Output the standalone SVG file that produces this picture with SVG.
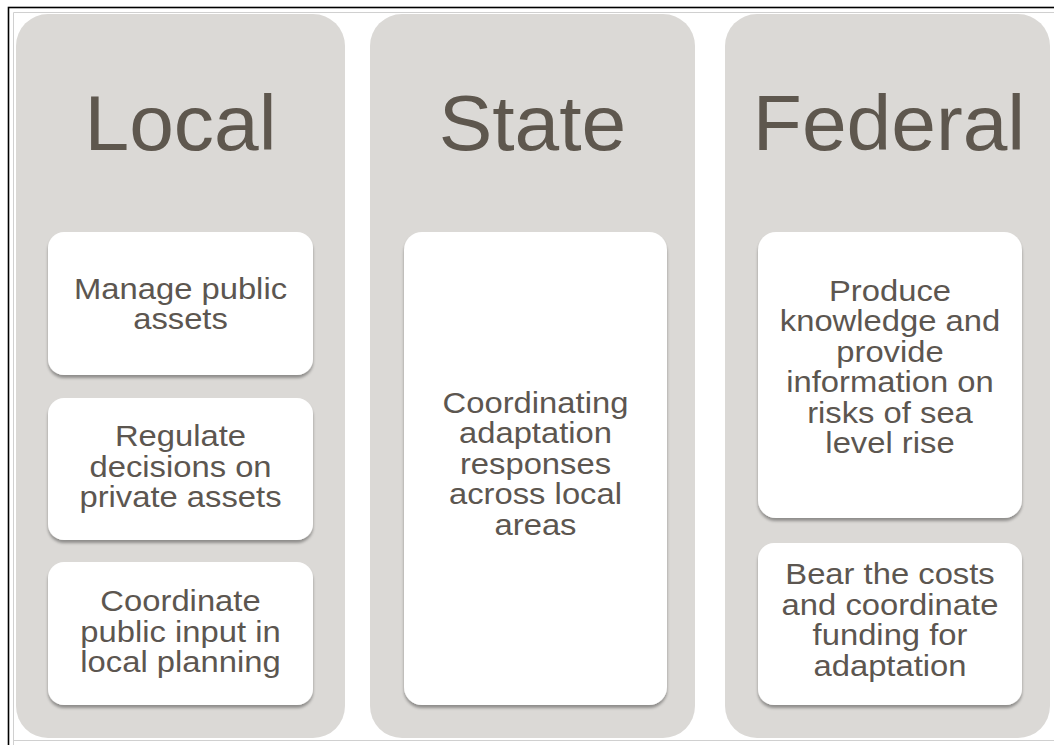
<svg xmlns="http://www.w3.org/2000/svg" width="1054" height="745" viewBox="0 0 1054 745">
  <defs>
    <filter id="boxShadow" x="-10%" y="-10%" width="120%" height="125%">
      <feGaussianBlur in="SourceAlpha" stdDeviation="1.5"/>
      <feOffset dx="0" dy="3" result="off"/>
      <feComponentTransfer><feFuncA type="linear" slope="0.35"/></feComponentTransfer>
      <feMerge><feMergeNode/><feMergeNode in="SourceGraphic"/></feMerge>
    </filter>
  </defs>
  <style>
    .col { fill: #dbd9d6; }
    .box { fill: #ffffff; filter: url(#boxShadow); }
    .title { font-family: "Liberation Sans", Arial, sans-serif; font-size: 78px; fill: #5e574e; text-anchor: middle; }
    .body { font-family: "Liberation Sans", Arial, sans-serif; font-size: 29px; fill: #5c5650; text-anchor: middle; }
  </style>

  <rect width="1054" height="745" fill="#ffffff"/>
  <!-- frame lines -->
  <rect x="8.5" y="7.5" width="1060" height="760" fill="none" stroke="#000000" stroke-width="1.6"/>
  <path d="M13.5 760 V12.5 H1054" fill="none" stroke="#d0d0d0" stroke-width="1"/>
  <line x1="13" y1="740.5" x2="1054" y2="740.5" stroke="#d0d0d0" stroke-width="1"/>

  <g id="local">
    <rect class="col" x="16" y="14" width="329" height="724" rx="32"/>
    <text class="title" transform="translate(180.5,150) scale(1.03,1)" x="0" y="0">Local</text>
    <g id="local-assets">
      <rect class="box" x="48" y="232" width="265" height="143" rx="16"/>
      <text class="body" transform="translate(180.5,0) scale(1.13,1)"><tspan x="0" y="298.75">Manage public</tspan><tspan x="0" y="329.25">assets</tspan></text>
    </g>
    <g id="local-regulate">
      <rect class="box" x="48" y="398" width="265" height="142" rx="16"/>
      <text class="body" transform="translate(180.5,0) scale(1.13,1)"><tspan x="0" y="446.5">Regulate</tspan><tspan x="0" y="477">decisions on</tspan><tspan x="0" y="507.5">private assets</tspan></text>
    </g>
    <g id="local-input">
      <rect class="box" x="48" y="562" width="265" height="143" rx="16"/>
      <text class="body" transform="translate(180.5,0) scale(1.13,1)"><tspan x="0" y="611.5">Coordinate</tspan><tspan x="0" y="642">public input in</tspan><tspan x="0" y="672.5">local planning</tspan></text>
    </g>
  </g>

  <g id="state">
    <rect class="col" x="370" y="14" width="325" height="724" rx="32"/>
    <text class="title" transform="translate(532.5,150) scale(1.03,1)" x="0" y="0">State</text>
    <g id="state-coordinate">
      <rect class="box" x="404" y="232" width="263" height="473" rx="18"/>
      <text class="body" transform="translate(535.5,0) scale(1.13,1)"><tspan x="0" y="413">Coordinating</tspan><tspan x="0" y="443.5">adaptation</tspan><tspan x="0" y="474">responses</tspan><tspan x="0" y="504.5">across local</tspan><tspan x="0" y="535">areas</tspan></text>
    </g>
  </g>

  <g id="federal">
    <rect class="col" x="725" y="14" width="325" height="724" rx="32"/>
    <text class="title" transform="translate(889,150) scale(1.03,1)" x="0" y="0">Federal</text>
    <g id="federal-knowledge">
      <rect class="box" x="758" y="232" width="264" height="286" rx="18"/>
      <text class="body" transform="translate(890,0) scale(1.13,1)"><tspan x="0" y="300.75">Produce</tspan><tspan x="0" y="331.25">knowledge and</tspan><tspan x="0" y="361.75">provide</tspan><tspan x="0" y="392.25">information on</tspan><tspan x="0" y="422.75">risks of sea</tspan><tspan x="0" y="453.25">level rise</tspan></text>
    </g>
    <g id="federal-funding">
      <rect class="box" x="758" y="543" width="264" height="162" rx="16"/>
      <text class="body" transform="translate(890,0) scale(1.13,1)"><tspan x="0" y="584.25">Bear the costs</tspan><tspan x="0" y="614.75">and coordinate</tspan><tspan x="0" y="645.25">funding for</tspan><tspan x="0" y="675.75">adaptation</tspan></text>
    </g>
  </g>

  <g id="connectors"></g>
</svg>
